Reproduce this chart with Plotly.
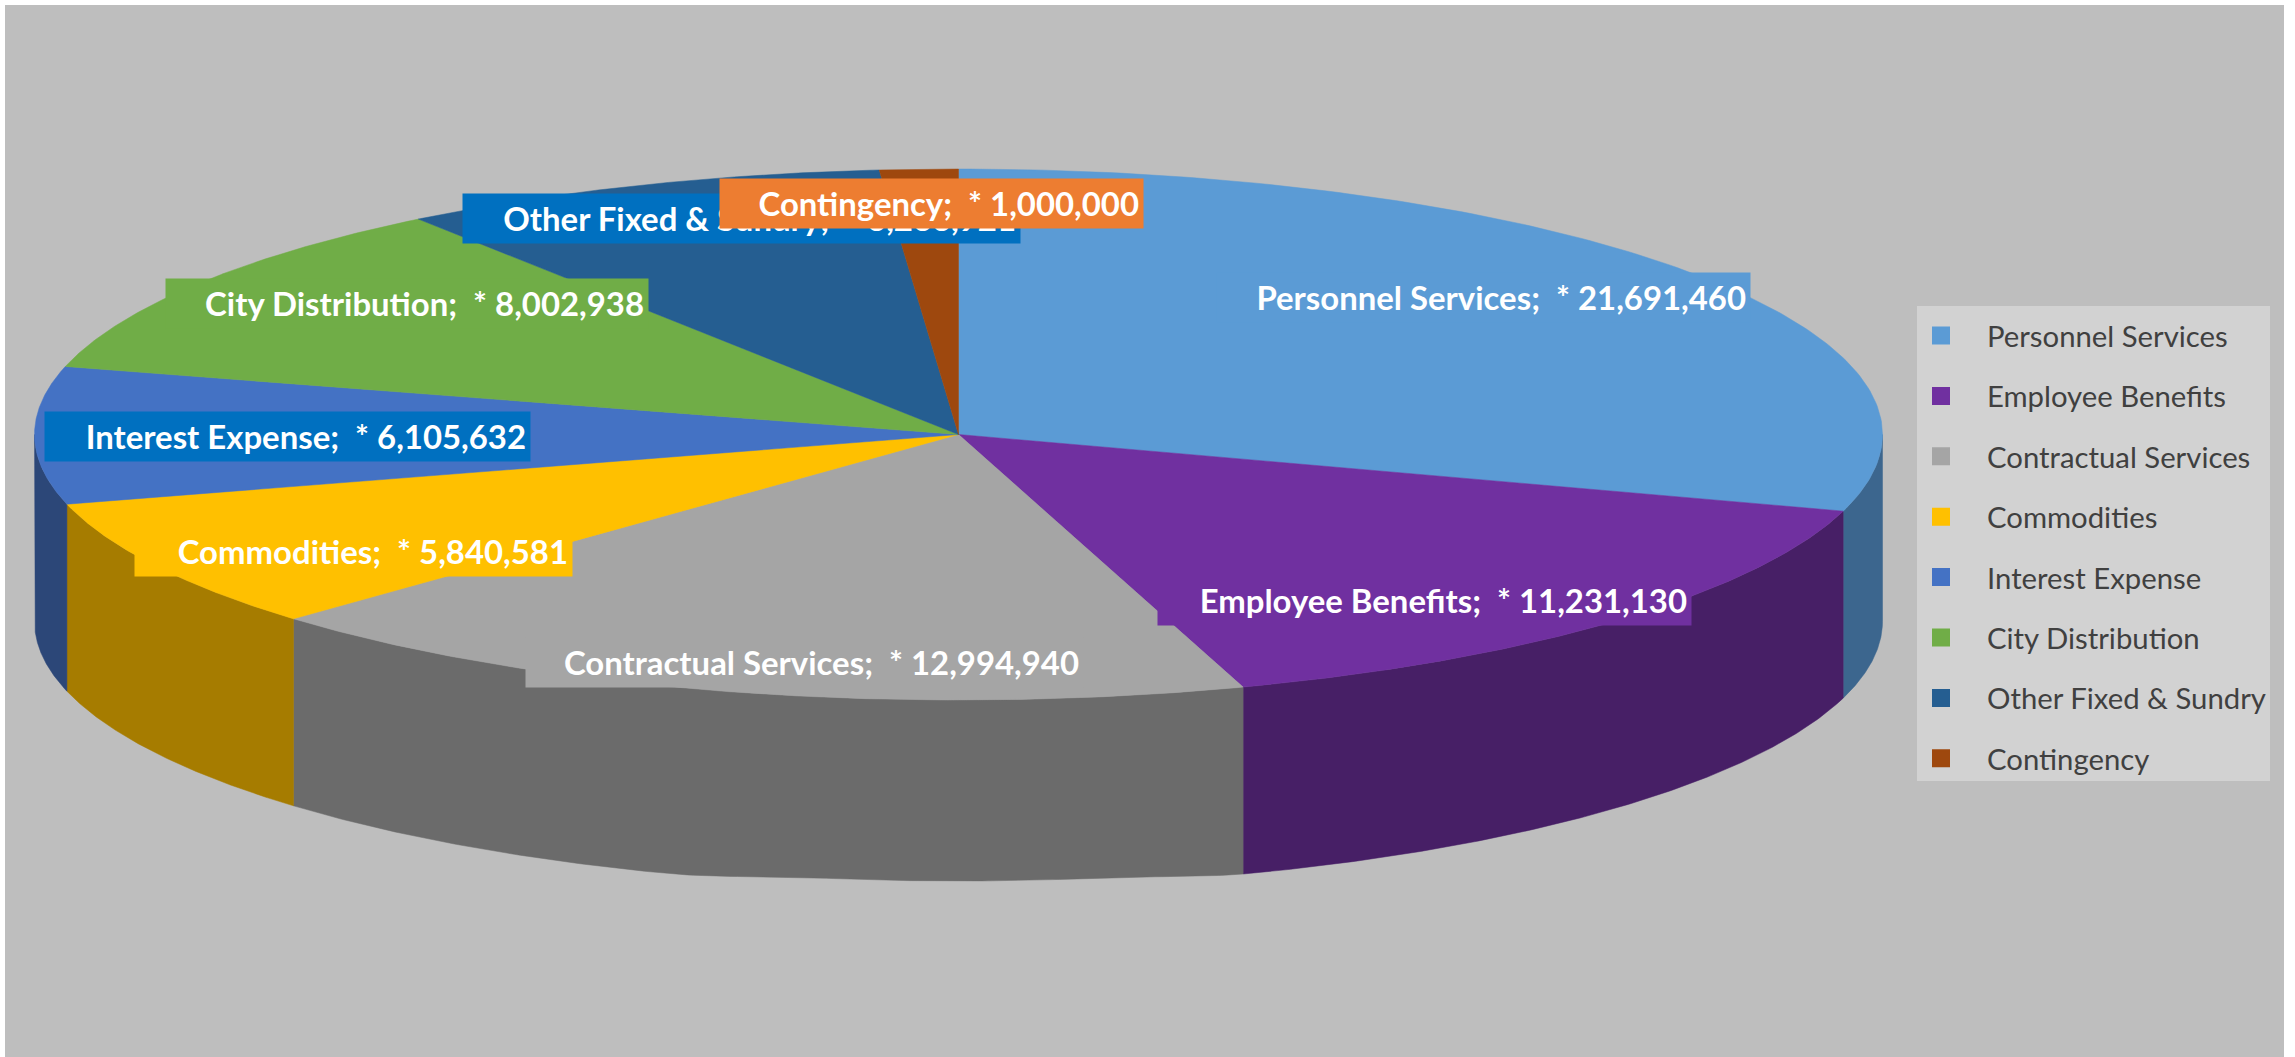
import numpy as np
import plotly.graph_objects as go

# ---- data ----
categories = ["Personnel Services", "Employee Benefits", "Contractual Services", "Commodities",
              "Interest Expense", "City Distribution", "Other Fixed & Sundry", "Contingency"]
values = [21691460, 11231130, 12994940, 5840581, 6105632, 8002938, 6266921, 1000000]

# ---- styles ----
top_colors = ["#5b9bd5", "#7030a0", "#a5a5a5", "#ffc000", "#4472c4", "#70ad47", "#255e91", "#9e480e"]
side_colors = ["#3c668e", "#471f66", "#6b6b6b", "#a67c00", "#2c4778", "#477030", "#183c5d", "#652e09"]
label_colors = ["#5b9bd5", "#7030a0", "#a5a5a5", "#ffc000", "#0070c0", "#70ad47", "#0070c0", "#ed7d31"]
# label box: left, top, right (canvas pixels); drawn in list order
label_boxes = {
    "Personnel Services": (1216, 272, 1749),
    "Employee Benefits": (1157, 575, 1690),
    "Contractual Services": (525, 637, 1082),
    "Commodities": (134, 526, 571),
    "Interest Expense": (44, 411, 529),
    "City Distribution": (165, 278, 647),
    "Other Fixed & Sundry": (462, 193, 1019),
    "Contingency": (719, 178, 1142),
}
W, H = 2295, 1057
CX, CY, RX, RY, DEPTH = 958.5, 434.5, 924, 265.5, 187
LABEL_H = 49
LABEL_FONT = 32.9
LEGEND_FONT = 29.3

total = sum(values)
edges = np.concatenate([[0], np.cumsum(values)]) / total * 2 * np.pi


def arc(a, b, n=160):
    t = np.linspace(a, b, n)
    return CX + RX * np.sin(t), CY - RY * np.cos(t), t


def wall_depth(t):
    # perspective flattens the wall slightly at the front of the rim
    u = np.clip((0.32 - np.abs(np.sin(t))) / 0.17, 0, 1)
    return DEPTH - 6 * u * u * (3 - 2 * u)


fig = go.Figure()

# side walls, only the front half of the rim can be seen
for i, name in enumerate(categories):
    a, b = max(edges[i], np.pi / 2), min(edges[i + 1], 1.5 * np.pi)
    if b <= a:
        continue
    x, y, t = arc(a, b)
    fig.add_trace(go.Scatter(
        x=np.concatenate([x, x[::-1], x[:1]]),
        y=np.concatenate([y, (y + wall_depth(t))[::-1], y[:1]]),
        mode="lines", fill="toself", fillcolor=side_colors[i],
        line=dict(color=side_colors[i], width=0.5),
        showlegend=False, hoverinfo="skip"))

# top face
for i, name in enumerate(categories):
    x, y, _ = arc(edges[i], edges[i + 1])
    fig.add_trace(go.Scatter(
        x=np.concatenate([[CX], x, [CX]]),
        y=np.concatenate([[CY], y, [CY]]),
        mode="lines", fill="toself", fillcolor=top_colors[i],
        line=dict(color=top_colors[i], width=0.5),
        name=name, showlegend=False, hoverinfo="name"))

# legend entries
for i, name in enumerate(categories):
    fig.add_trace(go.Scatter(
        x=[None], y=[None], mode="markers", name=name, legendgroup=name,
        marker=dict(symbol="square", size=16, color=top_colors[i],
                    line=dict(color=top_colors[i], width=2))))

annotations = []
for i, name in enumerate(categories):
    left, top, right = label_boxes[name]
    annotations.append(dict(
        x=left, y=top, xref="x", yref="y", xanchor="left", yanchor="top",
        width=right - left - 8, height=LABEL_H - 8, borderpad=4,
        align="right", valign="middle", showarrow=False,
        bgcolor=label_colors[i],
        text=f"<b>{name}; \u00a0* {values[i]:,}</b>",
        font=dict(family="Lato", size=LABEL_FONT, color="white")))

fig.update_layout(
    width=W, height=H, margin=dict(l=0, r=0, t=0, b=0),
    paper_bgcolor="white", plot_bgcolor="rgba(0,0,0,0)",
    xaxis=dict(range=[0, W], visible=False, fixedrange=True),
    yaxis=dict(range=[H, 0], visible=False, fixedrange=True),
    shapes=[
        dict(type="rect", xref="x", yref="y", x0=5, y0=5, x1=2284, y1=H,
             fillcolor="#bebebe", line_width=0, layer="below"),
        dict(type="rect", xref="x", yref="y", x0=1917, y0=306, x1=2270, y1=781,
             fillcolor="#d2d2d2", line_width=0, layer="below"),
    ],
    annotations=annotations,
    legend=dict(x=1895 / W, y=1 - 310 / H, xanchor="left", yanchor="top",
                bgcolor="rgba(0,0,0,0)", itemwidth=82, tracegroupgap=19.3,
                itemclick=False, itemdoubleclick=False,
                font=dict(family="Lato", size=LEGEND_FONT, color="#404040")),
)

fig.write_html("out.html", config={"displayModeBar": False},
               post_script="document.body.style.margin='0';document.body.style.overflow='hidden';")
